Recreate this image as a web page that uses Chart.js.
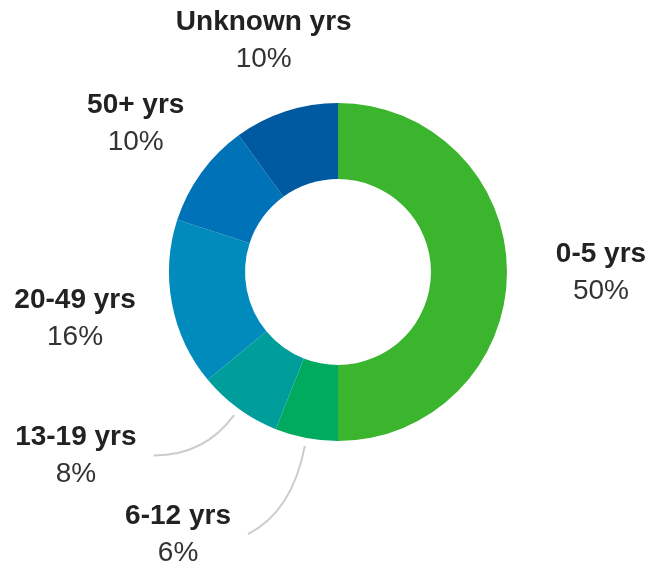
<!DOCTYPE html>
<html>
<head>
<meta charset="utf-8">
<script src="https://cdn.jsdelivr.net/npm/chart.js@4.4.0/dist/chart.umd.min.js"></script>
<style>
  html, body { margin: 0; padding: 0; background: #fff; }
  #wrap { width: 650px; height: 567px; position: relative; }
</style>
</head>
<body>
<div id="wrap"><canvas id="ageChart"></canvas></div>
<script>
// Age groups, clockwise from the top
const ageLabels = ["0-5 yrs", "6-12 yrs", "13-19 yrs", "20-49 yrs", "50+ yrs", "Unknown yrs"];
const agePercent = [50, 6, 8, 16, 10, 10];
const sliceColors = ["#3bb52e", "#00aa5f", "#009e9b", "#008bbc", "#0073b8", "#005aa2"];

// label placement: distance from centre and angle shift (deg), leader line bend
const labelRadius = [263, 307, 320, 267, 251, 243];
const labelShift = [0, 20.6, 19, 0.8, 0.3, 0.2];
const leaderBend = [0, 75, 58, 0, 0, 0];

const outsideLabels = {
  id: "outsideLabels",
  afterDraw(chart) {
    const ctx = chart.ctx;
    const arcs = chart.getDatasetMeta(0).data;
    ctx.save();
    arcs.forEach((arc, i) => {
      const p = arc.getProps(["x", "y", "startAngle", "endAngle", "outerRadius"], true);
      const mid = (p.startAngle + p.endAngle) / 2;
      const a = mid + labelShift[i] * Math.PI / 180;
      const lx = p.x + Math.cos(a) * labelRadius[i];
      const ly = p.y + Math.sin(a) * labelRadius[i];

      ctx.font = "bold 28px 'Liberation Sans', Arial, sans-serif";
      const w = ctx.measureText(ageLabels[i]).width;

      if (leaderBend[i] > 0) {
        const r0 = p.outerRadius + 8;
        const sx = p.x + Math.cos(mid) * r0;
        const sy = p.y + Math.sin(mid) * r0;
        const ex = lx + w / 2 + 17;
        const ey = ly;
        const rc = p.outerRadius + leaderBend[i];
        const cx = p.x + Math.cos(mid) * rc;
        const cy = p.y + Math.sin(mid) * rc;
        ctx.beginPath();
        ctx.moveTo(sx, sy);
        ctx.quadraticCurveTo(cx, cy, ex, ey);
        ctx.strokeStyle = "#cccccc";
        ctx.lineWidth = 2;
        ctx.stroke();
      }

      ctx.textAlign = "center";
      ctx.textBaseline = "middle";
      ctx.fillStyle = "#222222";
      ctx.fillText(ageLabels[i], lx, ly - 18);
      ctx.font = "28px 'Liberation Sans', Arial, sans-serif";
      ctx.fillStyle = "#333333";
      ctx.fillText(agePercent[i] + "%", lx, ly + 19);
    });
    ctx.restore();
  }
};

new Chart(document.getElementById("ageChart"), {
  type: "doughnut",
  data: {
    labels: ageLabels,
    datasets: [{
      data: agePercent,
      backgroundColor: sliceColors,
      borderWidth: 0,
      hoverOffset: 0
    }]
  },
  options: {
    responsive: true,
    maintainAspectRatio: false,
    animation: false,
    cutout: "55%",
    layout: {
      padding: { top: 103, bottom: 126, left: 169, right: 143 }
    },
    plugins: {
      legend: { display: false },
      tooltip: { enabled: false }
    }
  },
  plugins: [outsideLabels]
});
</script>
</body>
</html>
